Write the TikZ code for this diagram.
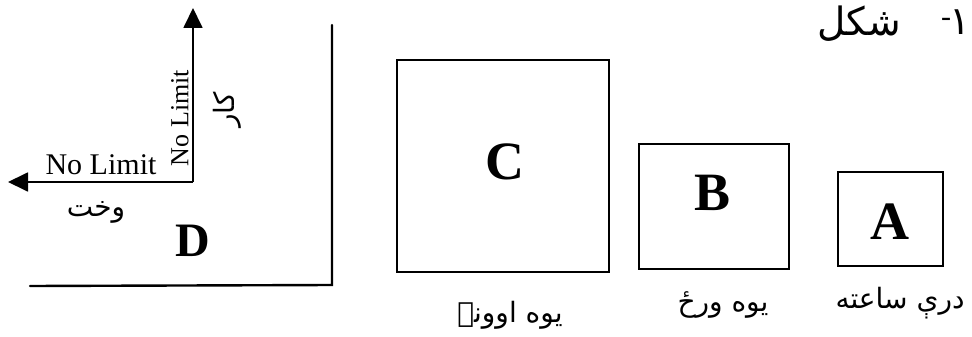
\documentclass[tikz,border=0pt]{standalone}
\usepackage{fontspec}
\setmainfont{Liberation Serif}
\newfontfamily\arabicfont[Script=Arabic]{DejaVu Sans}
\TeXXeTstate=1
\usetikzlibrary{arrows.meta}
\begin{document}
\begin{tikzpicture}[x=1pt,y=-1pt,
  frame/.style={draw, line width=2.2pt, inner sep=0pt},
  bigletter/.style={font=\fontsize{54}{54}\selectfont\bfseries, inner sep=0pt},
  dletter/.style={font=\fontsize{48}{48}\selectfont\bfseries, inner sep=0pt},
  latin/.style={font=\fontsize{30}{30}\selectfont, inner sep=0pt},
  latinv/.style={font=\fontsize{26}{26}\selectfont, inner sep=0pt, rotate=90},
  ar/.style={font=\arabicfont\fontsize{28}{32}\selectfont, inner sep=0pt},
  title/.style={font=\arabicfont\fontsize{39}{40}\selectfont, inner sep=0pt},
  axisarrow/.style={line width=1.8pt, -{Triangle[length=20pt,width=19pt]}},
  edge/.style={line width=2.4pt, line cap=round, line join=miter}]
\useasboundingbox[fill=white] (0,0) rectangle (972,337);

% left panel
\coordinate (o) at (193,182);
\coordinate (ytip) at (193,8);
\coordinate (xtip) at (8,182);
\draw[axisarrow] (o) -- (ytip);
\draw[axisarrow] (o) -- (xtip);
\node[latin] (nlh) at (101,165) {No Limit};
\node[latinv] (nlv) at (180,118) {No Limit};
\node[ar, rotate=90] (kar) at (227,110) {\beginR کار\endR};
\node[ar] (wakht) at (96,212) {\beginR وخت\endR};
\node[dletter] (D) at (193,241) {D};
\coordinate (lt) at (332,25);
\coordinate (lc) at (332,285);
\coordinate (lb) at (30,286);
\draw[edge] (lt) -- (lc) -- (lb);

% boxes
\node[frame, minimum width=212pt, minimum height=212pt] (boxC) at (503,166) {};
\node[bigletter] (C) at (505,162) {C};
\node[frame, minimum width=150pt, minimum height=125pt] (boxB) at (714,206.5) {};
\node[bigletter] (B) at (713,193) {B};
\node[frame, minimum width=105pt, minimum height=94pt] (boxA) at (890.5,219) {};
\node[bigletter] (A) at (890,222) {A};

% labels
\node[ar] (week) at (510,315) {\beginR يوه اوونۍ\endR};
\node[ar] (day) at (723,305) {\beginR يوه ورځ\endR};
\node[ar] (hours) at (900,303) {\beginR درې ساعته\endR};

% title
\node[title] (shakl) at (859,24) {\beginR شکل\endR};
\node[latin] (dash) at (946,22) {-};
\node[title, anchor=east] (one) at (971,22) {۱};
\end{tikzpicture}
\end{document}
